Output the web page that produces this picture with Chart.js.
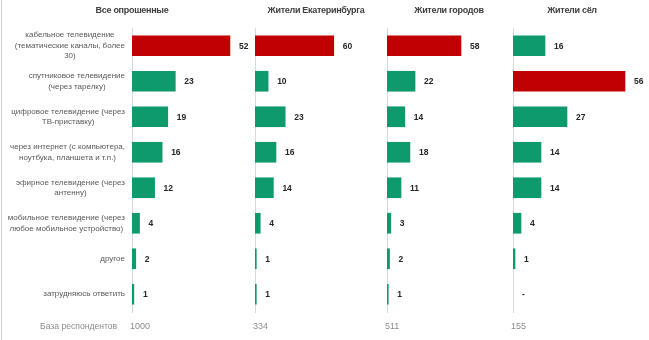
<!DOCTYPE html>
<html>
<head>
<meta charset="utf-8">
<script src="https://cdn.jsdelivr.net/npm/chart.js@4"></script>
<style>
  body { margin:0; background:#fff; font-family:"Liberation Sans", Arial, sans-serif; }
  #wrap { position:relative; width:649px; height:340px; overflow:hidden; }
  #wrap canvas { position:absolute; left:0; top:0; }
  .edge { position:absolute; left:1px; top:0; width:1px; height:340px; background:#d0d0d0; }
  .title { position:absolute; top:5px; font-weight:bold; font-size:9px; color:#404040; white-space:nowrap; transform:translateX(-50%); letter-spacing:-0.3px; }
  .base { position:absolute; top:321px; font-size:9px; color:#8c8c8c; white-space:nowrap; }
  .base.lbl { font-size:8.6px; }
</style>
</head>
<body>
<div id="wrap"><div class="edge"></div></div>
<script>
const categories = [
  ["кабельное телевидение", "(тематические каналы, более", "30)"],
  ["спутниковое телевидение", "(через тарелку)"],
  ["цифровое телевидение (через", "ТВ-приставку)"],
  ["через интернет (с компьютера,", "ноутбука, планшета и т.п.)"],
  ["эфирное телевидение (через", "антенну)"],
  ["мобильное телевидение (через", "любое мобильное устройство)"],
  ["другое"],
  ["затрудняюсь ответить"]
];
const groups = ["Все опрошенные", "Жители Екатеринбурга", "Жители городов", "Жители сёл"];
const allResp   = [52, 23, 19, 16, 12, 4, 2, 1];
const ekbResp   = [60, 10, 23, 16, 14, 4, 1, 1];
const townResp  = [58, 22, 14, 18, 11, 3, 2, 1];
const villResp  = [16, 56, 27, 14, 14, 4, 1, null];
const bases = [1000, 334, 511, 155];
const baseLabel = "База респондентов";

const series = [allResp, ekbResp, townResp, villResp];
// axis x, plot width, scale max per panel
const panels = [
  { x:132, w:113, max:60, title:132 },
  { x:255, w:105, max:80, title:316 },
  { x:387, w:102, max:80, title:449 },
  { x:513, w:120, max:60, title:572 }
];
const RED = "#c00000", GREEN = "#0f9a6e";
const wrap = document.getElementById("wrap");

const valueLabels = {
  id:"valueLabels",
  afterDatasetsDraw(chart){
    const ctx = chart.ctx, meta = chart.getDatasetMeta(0);
    const data = chart.data.datasets[0].data;
    ctx.save();
    ctx.font = "bold 8.5px 'Liberation Sans', Arial, sans-serif";
    ctx.fillStyle = "#262626";
    ctx.textBaseline = "middle";
    meta.data.forEach((bar,i)=>{
      const v = data[i];
      const x = v == null ? chart.scales.x.getPixelForValue(0) : bar.x;
      const y = chart.scales.y.getPixelForValue(i);
      ctx.fillText(v == null ? "-" : String(v), x + 9, y + 0.5);
    });
    ctx.restore();
  }
};

const catLabels = {
  id:"catLabels",
  afterDraw(chart){
    const ctx = chart.ctx;
    ctx.save();
    ctx.font = "8px 'Liberation Sans', Arial, sans-serif";
    ctx.fillStyle = "#595959";
    ctx.textAlign = "center";
    ctx.textBaseline = "middle";
    const right = 125, lh = 10.5;
    categories.forEach((lines,i)=>{
      const y = chart.scales.y.getPixelForValue(i);
      const w = Math.max(...lines.map(l=>ctx.measureText(l).width));
      const cx = right - w/2;
      lines.forEach((l,k)=>{
        ctx.fillText(l, cx, y + (k - (lines.length-1)/2) * lh);
      });
    });
    ctx.restore();
  }
};

series.forEach((vals,p)=>{
  const pn = panels[p];
  const c = document.createElement("canvas");
  c.width = 649; c.height = 340;
  c.style.width = "649px"; c.style.height = "340px";
  wrap.appendChild(c);

  const mx = Math.max(...vals.filter(v=>v!=null));
  new Chart(c, {
    type:"bar",
    data:{
      labels: categories.map(l=>l.join(" ")),
      datasets:[{
        data: vals,
        backgroundColor: vals.map(v=> v===mx ? RED : GREEN),
        barThickness: 20
      }]
    },
    options:{
      indexAxis:"y",
      responsive:false,
      animation:false,
      events:[],
      layout:{ padding:{ left:pn.x, right:649 - pn.x - pn.w, top:28, bottom:28 } },
      plugins:{ legend:{display:false}, tooltip:{enabled:false}, title:{display:false} },
      scales:{
        x:{ display:false, min:0, max:pn.max },
        y:{
          ticks:{ display:false },
          grid:{ display:true, drawOnChartArea:false, drawTicks:false },
          border:{ display:true, color:"#d9d9d9", width:1 }
        }
      }
    },
    plugins: p === 0 ? [valueLabels, catLabels] : [valueLabels]
  });

  const t = document.createElement("div");
  t.className = "title";
  t.style.left = pn.title + "px";
  t.textContent = groups[p];
  wrap.appendChild(t);

  const b = document.createElement("div");
  b.className = "base";
  b.style.left = (pn.x - 2) + "px";
  b.textContent = bases[p];
  wrap.appendChild(b);
});

const bl = document.createElement("div");
bl.className = "base lbl";
bl.style.left = "40px";
bl.textContent = baseLabel;
wrap.appendChild(bl);
</script>
</body>
</html>
